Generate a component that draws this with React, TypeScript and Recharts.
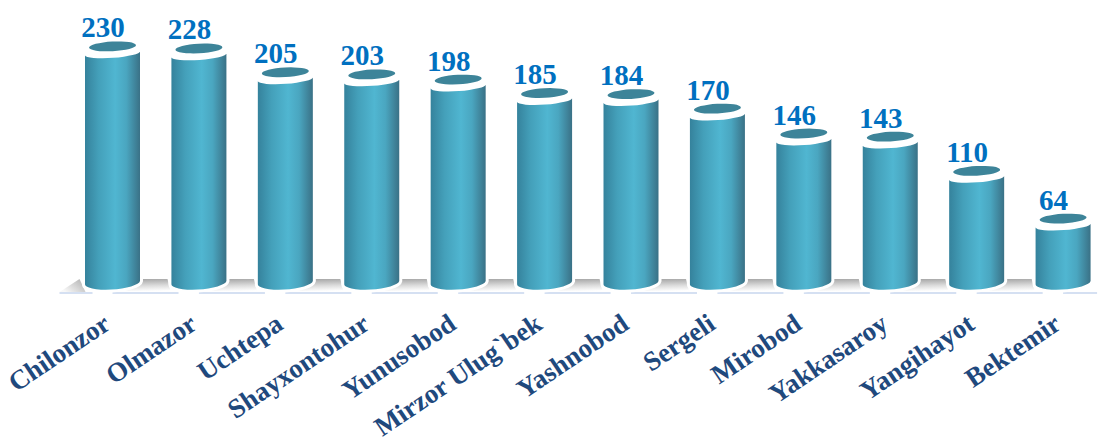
import { Bar, BarChart, LabelList, XAxis, YAxis } from 'recharts';

const districts = [
  'Chilonzor',
  'Olmazor',
  'Uchtepa',
  'Shayxontohur',
  'Yunusobod',
  'Mirzor Ulug`bek',
  'Yashnobod',
  'Sergeli',
  'Mirobod',
  'Yakkasaroy',
  'Yangihayot',
  'Bektemir',
];
const counts = [230, 228, 205, 203, 198, 185, 184, 170, 146, 143, 110, 64];

const data = districts.map((name, i) => ({ name, value: counts[i] }));

const SERIF = '"Liberation Serif", serif';

// cylinder with tilted ellipse on top, floor strip sits behind it
function Cylinder({ x, y, width, height, index }: any) {
  const left = x;
  const right = x + width;
  const cx = x + width / 2;
  const y0 = y + height;
  const body = `M${left},${y + 9} A${width / 2},4.5 -4 0 0 ${right},${y + 5} L${right},${y0 - 4} A${width / 2},7 -4 0 1 ${left},${y0 - 1} Z`;
  const last = index === districts.length - 1;
  return (
    <g>
      {index === 0 && (
        <>
          <path d={`M${cx - 53},${y0 + 7} L${cx - 33},${y0 - 6} L${cx - 27},${y0 + 7} Z`} fill="url(#floorLeft)" />
          <rect x={cx - 53} y={y0 + 7} width={33} height={2} fill="#d5e0f2" />
        </>
      )}
      {!last && (
        <path d={`M${cx + 10},${y0 + 6} L${cx + 10},${y0 - 6} L${cx + 55},${y0 - 6} L${cx + 58},${y0 + 6} Z`} fill="url(#floorGrad)" />
      )}
      <rect x={cx} y={y0 + 7} width={last ? 34 : 66} height={2} fill="#d5e0f2" />
      <path d={body} fill="#fff" stroke="#fff" strokeWidth={6} />
      <path d={body} fill="url(#cylGrad)" />
      <ellipse cx={cx} cy={y} rx={23.5} ry={4.8} fill="#3d8499" transform={`rotate(-3 ${cx} ${y})`} />
    </g>
  );
}

function ValueLabel({ x, y, width, value }: any) {
  return (
    <text x={x + width / 2 - 9.5} y={y - 9} textAnchor="middle" fontFamily={SERIF} fontWeight="bold" fontSize={29} fill="#0070c0">
      {value}
    </text>
  );
}

function DistrictTick({ x, payload }: any) {
  return (
    <text
      transform={`translate(${x - 11},312) rotate(-34)`}
      textAnchor="end"
      dominantBaseline="hanging"
      fontFamily={SERIF}
      fontWeight="bold"
      fontSize={27}
      fill="#1f497d"
    >
      {payload.value}
    </text>
  );
}

export default function App() {
  return (
    <div style={{ position: 'absolute', left: 0, top: 0, width: 1100, height: 441, overflow: 'hidden', background: '#fff' }}>
      <BarChart width={1106} height={441} data={data} margin={{ top: 36, right: 0, bottom: 0, left: 69 }} barSize={55}>
        <defs>
          <linearGradient id="cylGrad" x1="0" y1="0" x2="1" y2="0">
            <stop offset="0" stopColor="#35829c" />
            <stop offset="0.25" stopColor="#44a0ba" />
            <stop offset="0.55" stopColor="#50b6d1" />
            <stop offset="0.75" stopColor="#4aa6c0" />
            <stop offset="1" stopColor="#3a7186" />
          </linearGradient>
          <linearGradient id="floorGrad" x1="0.55" y1="0" x2="0.65" y2="1">
            <stop offset="0" stopColor="#a8a8a8" />
            <stop offset="0.55" stopColor="#dcdcdc" />
            <stop offset="1" stopColor="#ffffff" />
          </linearGradient>
          <linearGradient id="floorLeft" x1="1" y1="0" x2="0" y2="0.6">
            <stop offset="0" stopColor="#adadad" />
            <stop offset="1" stopColor="#f8f8f8" />
          </linearGradient>
        </defs>
        <XAxis dataKey="name" interval={0} tickLine={false} axisLine={false} tick={<DistrictTick />} height={156} />
        <YAxis hide domain={[0, 240]} />
        <Bar dataKey="value" shape={<Cylinder />} isAnimationActive={false}>
          <LabelList dataKey="value" content={<ValueLabel />} />
        </Bar>
      </BarChart>
    </div>
  );
}
